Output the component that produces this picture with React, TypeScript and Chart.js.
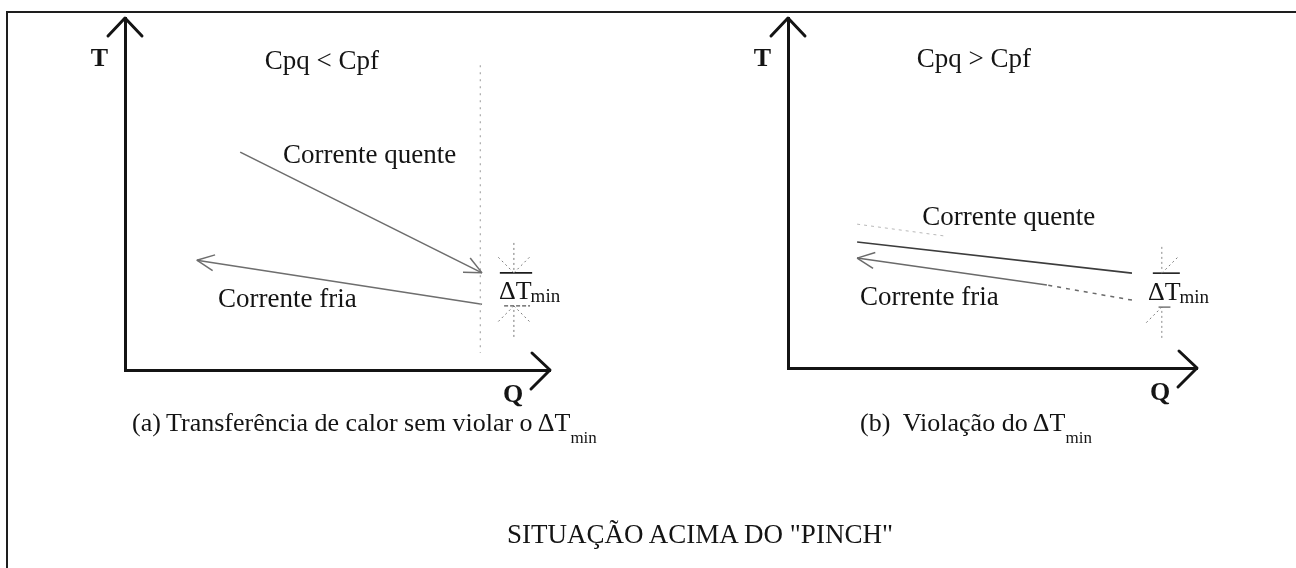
import React, { useEffect, useRef } from "react";
import { Chart, registerables } from "chart.js";

Chart.register(...registerables);

// ---------------- data: panel (a)  Cpq < Cpf ----------------
const A_HOT_Q = [27.1, 84.0];
const A_HOT_T = [61.9, 27.6];
const A_COLD_Q = [84.0, 16.9];
const A_COLD_T = [18.7, 31.2];
const A_PINCH_Q = [83.6, 83.6];
const A_PINCH_T = [86.6, 4.8];
const A_DT_Q = [91.5, 91.5];
const A_DT_UP_T = [36.1, 27.6];
const A_DT_LOW_T = [9.4, 18.2];
const A_DT_TICK_UP_Q = [88.2, 95.8];
const A_DT_TICK_LOW_Q = [89.2, 95.3];
const A_LABELS = ["Cpq < Cpf", "Corrente quente", "Corrente fria"];
const A_LABEL_Q = [32.9, 37.2, 21.9];
const A_LABEL_T = [85.6, 58.8, 17.9];
const A_DT_LABEL = [88.0, 20.2];

// ---------------- data: panel (b)  Cpq > Cpf ----------------
const B_GHOST_Q = [16.9, 38.4];
const B_GHOST_T = [41.1, 37.7];
const B_HOT_Q = [16.9, 84.1];
const B_HOT_T = [36.0, 27.1];
const B_COLD_Q = [84.1, 63.3, 16.9];
const B_COLD_T = [19.4, 23.7, 31.4];
const B_DT_Q = [91.4, 91.4];
const B_DT_UP_T = [34.6, 27.1];
const B_DT_LOW_T = [8.6, 17.4];
const B_DT_TICK_UP_Q = [89.2, 95.8];
const B_DT_TICK_LOW_Q = [90.6, 93.5];
const B_LABELS = ["Cpq > Cpf", "Corrente quente", "Corrente fria"];
const B_LABEL_Q = [31.5, 32.8, 17.6];
const B_LABEL_T = [86.1, 40.9, 18.0];
const B_DT_LABEL = [88.0, 19.4];

const Q_RANGE = [0, 100];
const T_RANGE = [0, 100];
const AXIS_T = "T";
const AXIS_Q = "Q";

const CAPTION_A = "(a)\u2009Transferência de calor sem violar o\u2009ΔT";
const CAPTION_B = "(b)\u00a0 Violação do\u2009ΔT";
const SUB_MIN = "min";
const TITLE = "SITUAÇÃO ACIMA DO \"PINCH\"";

const SERIF = '"Liberation Serif", "Times New Roman", serif';
const INK = "#141414";

const zip = (qs: number[], ts: number[]) => qs.map((q, i) => ({ x: q, y: ts[i] }));
const flat = (qs: number[], t: number) => qs.map((q) => ({ x: q, y: t }));

type PanelText = {
  labels: string[];
  labelQ: number[];
  labelT: number[];
  dt: number[];
};

function makePlugin(cfg: PanelText) {
  return {
    id: "diagram",
    afterDatasetsDraw(chart: any) {
      const ctx = chart.ctx as CanvasRenderingContext2D;
      const xs = chart.scales.x;
      const ys = chart.scales.y;
      chart.data.datasets.forEach((ds: any, i: number) => {
        const pts = chart.getDatasetMeta(i).data;
        if (!pts || pts.length < 2) return;
        const p = pts[pts.length - 1];
        const q = pts[pts.length - 2];
        const dx = p.x - q.x;
        const dy = p.y - q.y;
        const len = Math.hypot(dx, dy) || 1;
        const bx = -dx / len;
        const by = -dy / len;
        const rot = (a: number) => [bx * Math.cos(a) - by * Math.sin(a), bx * Math.sin(a) + by * Math.cos(a)];
        if (ds.head) {
          ctx.save();
          ctx.strokeStyle = ds.borderColor;
          ctx.lineWidth = 1.5;
          ctx.setLineDash([]);
          for (const s of ds.head as number[]) {
            const [vx, vy] = rot((s * 25 * Math.PI) / 180);
            ctx.beginPath();
            ctx.moveTo(p.x, p.y);
            ctx.lineTo(p.x + vx * 19, p.y + vy * 19);
            ctx.stroke();
          }
          ctx.restore();
        }
        if (ds.rays) {
          ctx.save();
          ctx.strokeStyle = "#7a7a7a";
          ctx.lineWidth = 1;
          ctx.setLineDash([2, 3]);
          for (const s of ds.rays as number[]) {
            const [vx, vy] = rot((s * 45 * Math.PI) / 180);
            ctx.beginPath();
            ctx.moveTo(p.x, p.y);
            ctx.lineTo(p.x + vx * 22, p.y + vy * 22);
            ctx.stroke();
          }
          ctx.restore();
        }
      });

      ctx.save();
      ctx.fillStyle = INK;
      ctx.textBaseline = "alphabetic";
      ctx.textAlign = "left";
      ctx.font = `27px ${SERIF}`;
      cfg.labels.forEach((txt, i) => {
        ctx.fillText(txt, xs.getPixelForValue(cfg.labelQ[i]), ys.getPixelForValue(cfg.labelT[i]));
      });
      const dxp = xs.getPixelForValue(cfg.dt[0]);
      const dyp = ys.getPixelForValue(cfg.dt[1]);
      ctx.font = `26px ${SERIF}`;
      ctx.fillText("ΔT", dxp, dyp);
      const w = ctx.measureText("ΔT").width;
      ctx.font = `19px ${SERIF}`;
      ctx.fillText("min", dxp + w - 1, dyp + 3);
      ctx.restore();
    },
    afterDraw(chart: any) {
      const ctx = chart.ctx as CanvasRenderingContext2D;
      const a = chart.chartArea;
      ctx.save();
      ctx.strokeStyle = INK;
      ctx.lineWidth = 3;
      ctx.lineCap = "round";
      ctx.lineJoin = "round";
      // up arrow on T axis
      ctx.beginPath();
      ctx.moveTo(a.left - 17, a.top + 18);
      ctx.lineTo(a.left, a.top);
      ctx.lineTo(a.left + 17, a.top + 18);
      ctx.stroke();
      // right arrow on Q axis
      ctx.beginPath();
      ctx.moveTo(a.right - 18, a.bottom - 17);
      ctx.lineTo(a.right, a.bottom);
      ctx.lineTo(a.right - 19, a.bottom + 19);
      ctx.stroke();
      ctx.fillStyle = INK;
      ctx.font = `bold 26px ${SERIF}`;
      ctx.textAlign = "right";
      ctx.textBaseline = "alphabetic";
      ctx.fillText(AXIS_T, a.left - 17, a.top + 48);
      ctx.textAlign = "center";
      ctx.fillText(AXIS_Q, a.right - 37, a.bottom + 32);
      ctx.restore();
    },
  };
}

function baseOptions(padding: any) {
  return {
    responsive: false,
    animation: false,
    devicePixelRatio: 1,
    events: [],
    layout: { padding, autoPadding: false },
    plugins: { legend: { display: false }, tooltip: { enabled: false }, title: { display: false } },
    elements: { point: { radius: 0 }, line: { tension: 0 } },
    scales: {
      x: {
        type: "linear",
        min: Q_RANGE[0],
        max: Q_RANGE[1],
        grid: { display: false, drawTicks: false },
        ticks: { display: false },
        border: { display: true, color: INK, width: 3 },
      },
      y: {
        type: "linear",
        min: T_RANGE[0],
        max: T_RANGE[1],
        grid: { display: false, drawTicks: false },
        ticks: { display: false },
        border: { display: true, color: INK, width: 3 },
      },
    },
  };
}

const line = (data: any[], color: string, width: number, extra: any = {}) => ({
  data,
  showLine: true,
  borderColor: color,
  borderWidth: width,
  pointRadius: 0,
  fill: false,
  ...extra,
});

function datasetsA() {
  return [
    line(zip(A_PINCH_Q, A_PINCH_T), "#a8a8a8", 1.2, { borderDash: [2, 5] }),
    line(zip(A_HOT_Q, A_HOT_T), "#6e6e6e", 1.6, { head: [-1, 1] }),
    line(zip(A_COLD_Q, A_COLD_T), "#6e6e6e", 1.6, { head: [-1, 1] }),
    line(zip(A_DT_Q, A_DT_UP_T), "#777777", 1, { borderDash: [2, 3], rays: [-1, 1] }),
    line(flat(A_DT_TICK_UP_Q, A_DT_UP_T[1]), "#1c1c1c", 1.6),
    line(flat(A_DT_TICK_LOW_Q, A_DT_LOW_T[1]), "#555555", 1.2, { borderDash: [4, 2] }),
    line(zip(A_DT_Q, A_DT_LOW_T), "#777777", 1, { borderDash: [2, 3], rays: [-1, 1] }),
  ];
}

function datasetsB() {
  return [
    line(zip(B_GHOST_Q, B_GHOST_T), "#b8b8b8", 1, { borderDash: [3, 4] }),
    line(zip(B_HOT_Q, B_HOT_T), "#3c3c3c", 1.6),
    line(zip(B_COLD_Q, B_COLD_T), "#6a6a6a", 1.5, {
      head: [-1, 1],
      segment: { borderDash: (c: any) => (c.p0DataIndex === 0 ? [4, 5] : undefined) },
    }),
    line(zip(B_DT_Q, B_DT_UP_T), "#888888", 1, { borderDash: [2, 3], rays: [1] }),
    line(flat(B_DT_TICK_UP_Q, B_DT_UP_T[1]), "#1c1c1c", 1.6),
    line(flat(B_DT_TICK_LOW_Q, B_DT_LOW_T[1]), "#555555", 1.2),
    line(zip(B_DT_Q, B_DT_LOW_T), "#888888", 1, { borderDash: [2, 3], rays: [1] }),
  ];
}

function Panel(props: { left: number; padding: any; datasets: () => any[]; text: PanelText }) {
  const ref = useRef<HTMLCanvasElement | null>(null);
  useEffect(() => {
    if (!ref.current) return;
    const chart = new Chart(ref.current, {
      type: "scatter",
      data: { datasets: props.datasets() as any },
      options: baseOptions(props.padding) as any,
      plugins: [makePlugin(props.text) as any],
    });
    return () => chart.destroy();
  }, []);
  return (
    <canvas
      ref={ref}
      width={648}
      height={568}
      style={{ position: "absolute", left: props.left, top: 0, width: 648, height: 568 }}
    />
  );
}

const captionStyle: React.CSSProperties = {
  position: "absolute",
  top: 410,
  font: `26px ${SERIF}`,
  lineHeight: "26px",
  whiteSpace: "nowrap",
  color: INK,
};
const subStyle: React.CSSProperties = { fontSize: 17, verticalAlign: -12 };

export default function App() {
  return (
    <div
      style={{
        position: "fixed",
        left: 0,
        top: 0,
        width: 1296,
        height: 568,
        overflow: "hidden",
        background: "#ffffff",
      }}
    >
      <div
        style={{
          position: "absolute",
          left: 6,
          top: 11,
          width: 1290,
          height: 557,
          borderTop: "2px solid #1e1e1e",
          borderLeft: "2px solid #1e1e1e",
          boxSizing: "border-box",
        }}
      />
      <Panel
        left={0}
        padding={{ left: 125, top: 18, right: 98, bottom: 198 }}
        datasets={datasetsA}
        text={{ labels: A_LABELS, labelQ: A_LABEL_Q, labelT: A_LABEL_T, dt: A_DT_LABEL }}
      />
      <Panel
        left={648}
        padding={{ left: 140, top: 18, right: 99, bottom: 200 }}
        datasets={datasetsB}
        text={{ labels: B_LABELS, labelQ: B_LABEL_Q, labelT: B_LABEL_T, dt: B_DT_LABEL }}
      />
      <div style={{ ...captionStyle, left: 132 }}>
        {CAPTION_A}
        <span style={subStyle}>{SUB_MIN}</span>
      </div>
      <div style={{ ...captionStyle, left: 860 }}>
        {CAPTION_B}
        <span style={subStyle}>{SUB_MIN}</span>
      </div>
      <div
        style={{
          position: "absolute",
          left: 400,
          width: 600,
          top: 521,
          textAlign: "center",
          font: `27px ${SERIF}`,
          lineHeight: "27px",
          whiteSpace: "nowrap",
          color: INK,
        }}
      >
        {TITLE}
      </div>
    </div>
  );
}
